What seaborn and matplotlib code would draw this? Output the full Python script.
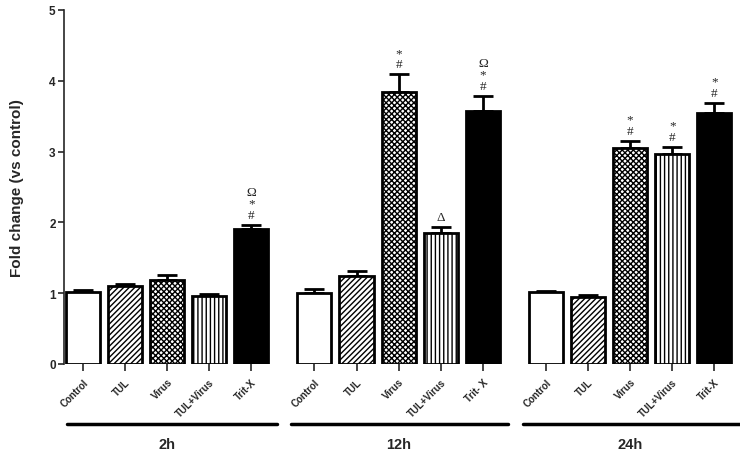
import numpy as np
import pandas as pd
import matplotlib
matplotlib.use("Agg")
import matplotlib.pyplot as plt
import matplotlib.transforms as mtransforms
import seaborn as sns

# data
groups = ['2h', '12h', '24h']
treatments = ['Control', 'TUL', 'Virus', 'TUL+Virus', 'Trit-X']
tick_labels_2h = ['Control', 'TUL', 'Virus', 'TUL+Virus', 'Trit-X']
tick_labels_12h = ['Control', 'TUL', 'Virus', 'TUL+Virus', 'Trit- X']
tick_labels_24h = ['Control', 'TUL', 'Virus', 'TUL+Virus', 'Trit-X']

means_2h = [1.01, 1.10, 1.19, 0.96, 1.90]
sem_2h = [0.04, 0.03, 0.07, 0.03, 0.06]
means_12h = [1.00, 1.24, 3.84, 1.85, 3.58]
sem_12h = [0.06, 0.08, 0.25, 0.08, 0.20]
means_24h = [1.01, 0.94, 3.05, 2.97, 3.55]
sem_24h = [0.02, 0.03, 0.10, 0.09, 0.14]

# significance marks, listed bottom to top
marks_2h = [[], [], [], [], ['#', '*', 'Ω']]
marks_12h = [[], [], ['#', '*'], ['Δ'], ['#', '*', 'Ω']]
marks_24h = [[], [], ['#', '*'], ['#', '*'], ['#', '*']]

GAP = 0.5
hatches = {'Control': '', 'TUL': '//////', 'Virus': 'xxxxxx', 'TUL+Virus': '||||', 'Trit-X': ''}
faces = {'Control': 'white', 'TUL': 'white', 'Virus': 'white', 'TUL+Virus': 'white', 'Trit-X': 'black'}

rows = []
all_means = [means_2h, means_12h, means_24h]
all_sem = [sem_2h, sem_12h, sem_24h]
all_marks = [marks_2h, marks_12h, marks_24h]
all_ticks = [tick_labels_2h, tick_labels_12h, tick_labels_24h]
for g, grp in enumerate(groups):
    for i, tr in enumerate(treatments):
        rows.append({'group': grp, 'treatment': tr, 'pos': g * (5 + GAP) + i,
                     'mean': all_means[g][i], 'sem': all_sem[g][i],
                     'marks': all_marks[g][i], 'label': all_ticks[g][i]})
df = pd.DataFrame(rows)

sns.set_style('ticks')
plt.rcParams['font.family'] = ['Liberation Sans', 'DejaVu Sans']
plt.rcParams['hatch.linewidth'] = 1.0

fig = plt.figure(figsize=(7.4, 4.52), dpi=100)
ax = fig.add_axes([0.0865, 0.1925, 0.91, 0.7832])

sns.barplot(data=df, x='pos', y='mean', native_scale=True, width=0.81,
            color='white', edgecolor='black', linewidth=2, errorbar=None, ax=ax)

bars = sorted(ax.patches, key=lambda p: p.get_x())
for bar, (_, r) in zip(bars, df.iterrows()):
    bar.set_facecolor(faces[r['treatment']])
    bar.set_hatch(hatches[r['treatment']])
    bar.set_zorder(2)

ax.errorbar(df['pos'], df['mean'], yerr=[np.zeros(len(df)), df['sem']],
            fmt='none', ecolor='black', elinewidth=2, capsize=7, capthick=2, zorder=1)

# stacked marks as one text block (top line first)
for _, r in df.iterrows():
    if r['marks']:
        ax.annotate('\n'.join(reversed(r['marks'])), (r['pos'], r['mean'] + r['sem']),
                    xytext=(0, 4), textcoords='offset pixels', ha='center', va='bottom',
                    ma='center', fontsize=9.5, linespacing=0.95, family='Liberation Serif')

ax.set_xlim(-0.45, 15.55)
ax.set_ylim(0, 5)
ax.set_yticks([0, 1, 2, 3, 4, 5])
ax.set_xticks(df['pos'])
ax.set_xticklabels(df['label'], rotation=45, ha='right', rotation_mode='anchor',
                   fontsize=7, fontweight='bold')
for lab in ax.get_yticklabels():
    lab.set_fontweight('bold')
    lab.set_fontsize(8.5)
ax.tick_params(axis='x', length=5, width=1.2, pad=4)
ax.tick_params(axis='y', length=4, width=1.2, pad=2)
ax.set_xlabel('')
ax.set_ylabel('Fold change (vs control)', fontsize=11, fontweight='bold', labelpad=18)

sns.despine(ax=ax, bottom=True)
ax.spines['left'].set_linewidth(1.2)

# group lines and labels below tick labels
trans = mtransforms.blended_transform_factory(ax.transData, ax.transAxes)
for g, grp in enumerate(groups):
    start = g * (5 + GAP)
    x0 = max(start - 0.55, -0.38)
    x1 = start + 4 + 0.6
    ax.plot([x0, x1], [-0.169, -0.169], color='black', lw=2.5, transform=trans, clip_on=False)
    ax.text(start + 2, -0.205, grp, transform=trans, ha='center', va='top',
            fontsize=10.5, fontweight='bold')

fig.savefig('out.png', dpi=100)
